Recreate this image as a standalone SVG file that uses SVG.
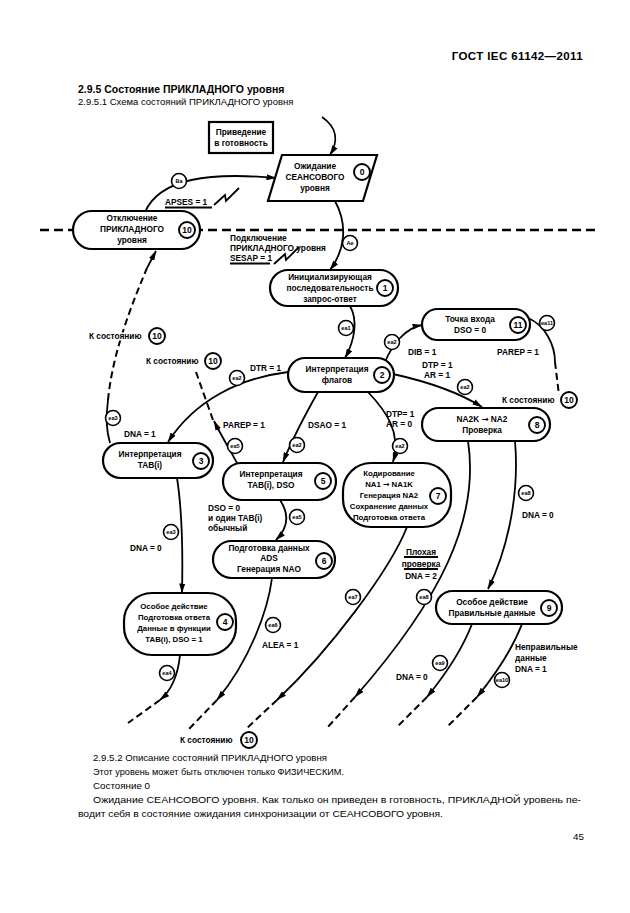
<svg xmlns="http://www.w3.org/2000/svg" width="630" height="913" viewBox="0 0 630 913">
<defs>
<marker id="ah" markerWidth="10" markerHeight="6" refX="9.5" refY="3" orient="auto" markerUnits="userSpaceOnUse"><path d="M0,0 L10,3 L0,6 Z" fill="#000"/></marker>
<style>
.pg{font-family:"Liberation Sans",Arial,sans-serif;fill:#000}
.d{font-family:"Liberation Sans",Arial,sans-serif;font-weight:bold;font-size:8.3px;fill:#000}
.s{font-size:7.8px}
.c{text-anchor:middle}
.ar{font-family:"DejaVu Sans",sans-serif}
.node{fill:#fff;stroke:#000;stroke-width:2.2}
.ln{fill:none;stroke:#000;stroke-width:1.8}
.ds{fill:none;stroke:#000;stroke-width:2;stroke-dasharray:7,4}
.tc{fill:#fff;stroke:#000;stroke-width:1.6}
.tt{font-family:"Liberation Sans",Arial,sans-serif;font-weight:bold;font-size:5.6px;text-anchor:middle;fill:#000}
.nc{fill:#fff;stroke:#000;stroke-width:1.9}
.nt{font-family:"Liberation Sans",Arial,sans-serif;font-weight:bold;font-size:8.5px;text-anchor:middle;fill:#000}
.halo{stroke:#fff;stroke-width:3;paint-order:stroke;stroke-linejoin:round}
</style>
</defs>
<rect width="630" height="913" fill="#fff"/>

<g id="page-text" class="pg">
<text x="583" y="60" font-size="11.5" font-weight="bold" text-anchor="end" letter-spacing="0.4">ГОСТ IEC 61142—2011</text>
<text x="78" y="93" font-size="10.5" font-weight="bold">2.9.5 Состояние ПРИКЛАДНОГО уровня</text>
<text x="78" y="105" font-size="9.5">2.9.5.1 Схема состояний ПРИКЛАДНОГО уровня</text>
<text x="93" y="761" font-size="9.8" textLength="234" lengthAdjust="spacingAndGlyphs">2.9.5.2 Описание состояний ПРИКЛАДНОГО уровня</text>
<text x="93" y="775" font-size="9.8" textLength="251" lengthAdjust="spacingAndGlyphs">Этот уровень может быть отключен только ФИЗИЧЕСКИМ.</text>
<text x="93" y="789" font-size="9.8">Состояние 0</text>
<text x="93" y="803" font-size="9.8" textLength="488" lengthAdjust="spacingAndGlyphs">Ожидание СЕАНСОВОГО уровня. Как только он приведен в готовность, ПРИКЛАДНОЙ уровень пе-</text>
<text x="78" y="817" font-size="9.8" textLength="365" lengthAdjust="spacingAndGlyphs">водит себя в состояние ожидания синхронизации от СЕАНСОВОГО уровня.</text>
<text x="573" y="840" font-size="9.8">45</text>
</g>

<g id="boundary">
<path d="M40,230 L595,230" fill="none" stroke="#000" stroke-width="2.5" stroke-dasharray="9,5"/>
</g>

<g id="connectors">
<path class="ln" d="M322,117 C338,128 338,142 330,155" marker-end="url(#ah)"/>
<path class="ln" d="M145,212 C160,178 210,172 276,178" marker-end="url(#ah)"/>
<path class="ln" d="M335,201 C348,225 345,250 330,270" marker-end="url(#ah)"/>
<path class="ln" d="M350,306 C358,320 355,340 345,358" marker-end="url(#ah)"/>
<path class="ln" d="M385,362 C392,345 405,328 422,325" marker-end="url(#ah)"/>
<path class="ln" d="M528,318 C545,325 555,345 555,362"/>
<path class="ds" d="M555,362 L559,395"/>
<path class="ln" d="M393,374 C420,380 455,390 482,407" marker-end="url(#ah)"/>
<path class="ln" d="M288,372 C240,378 195,400 168,442" marker-end="url(#ah)"/>
<path class="ln" d="M318,392 C305,415 292,440 283,462" marker-end="url(#ah)"/>
<path class="ln" d="M368,392 C385,410 402,432 393,462" marker-end="url(#ah)"/>
<path class="ln" d="M237,463 C230,450 222,437 214,421" marker-end="url(#ah)"/>
<path class="ds" d="M213,420 L196,372"/>
<path class="ln" d="M110,443 C106,430 106,415 108,400"/>
<path class="ds" d="M108,400 C112,360 125,320 147,268"/>
<path class="ln" d="M147,268 L156,251" marker-end="url(#ah)"/>
<path class="ln" d="M177,478 C182,510 183,550 182,593" marker-end="url(#ah)"/>
<path class="ln" d="M280,500 C290,515 288,528 276,540" marker-end="url(#ah)"/>
<path class="ln" d="M272,578 C268,610 250,660 217,700" marker-end="url(#ah)"/>
<path class="ds" d="M217,700 L188,730"/>
<path class="ln" d="M180,655 C178,675 172,690 160,700" marker-end="url(#ah)"/>
<path class="ds" d="M160,700 L128,723"/>
<path class="ln" d="M407,527 C390,570 330,650 277,700" marker-end="url(#ah)"/>
<path class="ds" d="M277,700 L245,730"/>
<path class="ln" d="M468,441 C480,520 440,600 355,697" marker-end="url(#ah)"/>
<path class="ds" d="M355,697 L327,728"/>
<path class="ln" d="M515,441 C520,500 505,555 488,589" marker-end="url(#ah)"/>
<path class="ln" d="M472,624 C462,650 445,675 427,697" marker-end="url(#ah)"/>
<path class="ds" d="M427,697 L397,727"/>
<path class="ln" d="M522,624 C512,650 495,675 477,697" marker-end="url(#ah)"/>
<path class="ds" d="M477,697 L447,727"/>
<polyline class="ln" points="214,205 225,195 226,201 239,188"/>
<polyline class="ln" points="274,264 285,254 286,260 299,247"/>
<path class="ln" d="M165,207.5 L212,207.5 M230,263.5 L270,263.5" stroke-width="1.3"/>
<path class="ln" d="M404,557 L438,557 M404,569 L438,569" stroke-width="1.3"/>
</g>

<g id="transition-labels">
<g><circle class="tc" cx="179" cy="181" r="7.5"/><text class="tt" x="179" y="183">Ba</text></g>
<g><circle class="tc" cx="350" cy="243" r="7.5"/><text class="tt" x="350" y="245">Ae</text></g>
<g><circle class="tc" cx="346" cy="328" r="7.5"/><text class="tt" x="346" y="330">ea1</text></g>
<g><circle class="tc" cx="392" cy="342" r="7.5"/><text class="tt" x="392" y="344">ea2</text></g>
<g><circle class="tc" cx="547" cy="323" r="7.5"/><text class="tt" x="547" y="325">ea11</text></g>
<g><circle class="tc" cx="465" cy="387" r="7.5"/><text class="tt" x="465" y="389">ea2</text></g>
<g><circle class="tc" cx="237" cy="378" r="7.5"/><text class="tt" x="237" y="380">ea2</text></g>
<g><circle class="tc" cx="297" cy="445" r="7.5"/><text class="tt" x="297" y="447">ea2</text></g>
<g><circle class="tc" cx="400" cy="446" r="7.5"/><text class="tt" x="400" y="448">ea2</text></g>
<g><circle class="tc" cx="235" cy="446" r="7.5"/><text class="tt" x="235" y="448">ea5</text></g>
<g><circle class="tc" cx="113" cy="418" r="7.5"/><text class="tt" x="113" y="420">ea3</text></g>
<g><circle class="tc" cx="171" cy="532" r="7.5"/><text class="tt" x="171" y="534">ea3</text></g>
<g><circle class="tc" cx="297" cy="517" r="7.5"/><text class="tt" x="297" y="519">ea5</text></g>
<g><circle class="tc" cx="273" cy="625" r="7.5"/><text class="tt" x="273" y="627">ea6</text></g>
<g><circle class="tc" cx="167" cy="673" r="7.5"/><text class="tt" x="167" y="675">ea4</text></g>
<g><circle class="tc" cx="353" cy="597" r="7.5"/><text class="tt" x="353" y="599">ea7</text></g>
<g><circle class="tc" cx="424" cy="597" r="7.5"/><text class="tt" x="424" y="599">ea8</text></g>
<g><circle class="tc" cx="526" cy="493" r="7.5"/><text class="tt" x="526" y="495">ea8</text></g>
<g><circle class="tc" cx="440" cy="663" r="7.5"/><text class="tt" x="440" y="665">ea9</text></g>
<g><circle class="tc" cx="502" cy="680" r="7.5"/><text class="tt" x="502" y="682">ea10</text></g>
</g>

<g id="edge-text">
<text class="d" x="165" y="205">APSES = 1</text>
<text class="d" x="230" y="241">Подключение</text>
<text class="d" x="230" y="251">ПРИКЛАДНОГО уровня</text>
<text class="d" x="230" y="261">SESAP = 1</text>
<text class="d" x="408" y="355">DIB = 1</text>
<text class="d" x="497" y="355">PAREP = 1</text>
<text class="d" x="422" y="368">DTP = 1</text>
<text class="d" x="424" y="378">AR = 1</text>
<text class="d" x="250" y="371">DTR = 1</text>
<text class="d" x="308" y="428">DSAO = 1</text>
<text class="d" x="223" y="428">PAREP = 1</text>
<text class="d" x="386" y="417">DTP= 1</text>
<text class="d" x="386" y="427">AR = 0</text>
<text class="d" x="124" y="437">DNA = 1</text>
<text class="d" x="130" y="551">DNA = 0</text>
<text class="d" x="208" y="511">DSO = 0</text>
<text class="d" x="208" y="521">и один TAB(i)</text>
<text class="d" x="208" y="531">обычный</text>
<text class="d" x="262" y="648">ALEA = 1</text>
<text class="d c" x="421" y="555">Плохая</text>
<text class="d c" x="421" y="567">проверка</text>
<text class="d c" x="421" y="579">DNA = 2</text>
<text class="d" x="522" y="518">DNA = 0</text>
<text class="d" x="396" y="680">DNA = 0</text>
<text class="d" x="515" y="650">Неправильные</text>
<text class="d" x="515" y="661">данные</text>
<text class="d" x="515" y="672">DNA = 1</text>
<g id="to10-a"><text class="d halo" x="89" y="339">К состоянию</text><circle class="nc" cx="157" cy="336" r="8"/><text class="nt" x="157" y="339">10</text></g>
<g id="to10-b"><text class="d halo" x="146" y="364">К состоянию</text><circle class="nc" cx="213" cy="361" r="8"/><text class="nt" x="213" y="364">10</text></g>
<g id="to10-c"><text class="d halo" x="502" y="403">К состоянию</text><circle class="nc" cx="569" cy="400" r="8"/><text class="nt" x="569" y="403">10</text></g>
<g id="to10-d"><text class="d halo" x="180" y="743">К состоянию</text><circle class="nc" cx="249" cy="740" r="8"/><text class="nt" x="249" y="743">10</text></g>
</g>

<g id="node-ready">
<rect class="node" x="209" y="122" width="64" height="31"/>
<text class="d c" x="241" y="135" font-size="7.3">Приведение</text>
<text class="d c" x="241" y="146" font-size="7.3">в готовность</text>
</g>

<g id="node-0">
<polygon class="node" points="282,155 377,155 363,201 268,201"/>
<text class="d c" x="315" y="169">Ожидание</text>
<text class="d c" x="315" y="180">СЕАНСОВОГО</text>
<text class="d c" x="315" y="191">уровня</text>
<circle class="nc" cx="362" cy="172" r="8"/><text class="nt" x="362" y="175">0</text>
</g>

<g id="node-10">
<rect class="node" x="73" y="211" width="127" height="38" rx="19"/>
<text class="d c" x="132" y="221">Отключение</text>
<text class="d c" x="132" y="232">ПРИКЛАДНОГО</text>
<text class="d c" x="132" y="243">уровня</text>
<circle class="nc" cx="187" cy="230" r="8"/><text class="nt" x="187" y="233">10</text>
</g>

<g id="node-1">
<rect class="node" x="270" y="270" width="128" height="36" rx="18"/>
<text class="d c" x="330" y="280">Инициализирующая</text>
<text class="d c" x="330" y="291">последовательность</text>
<text class="d c" x="330" y="302">запрос-ответ</text>
<circle class="nc" cx="385" cy="288" r="8"/><text class="nt" x="385" y="291">1</text>
</g>

<g id="node-2">
<rect class="node" x="288" y="358" width="106" height="34" rx="17"/>
<text class="d c" x="337" y="372">Интерпретация</text>
<text class="d c" x="337" y="383">флагов</text>
<circle class="nc" cx="382" cy="375" r="8"/><text class="nt" x="382" y="378">2</text>
</g>

<g id="node-11">
<rect class="node" x="422" y="309" width="108" height="31" rx="15.5"/>
<text class="d c" x="470" y="322">Точка входа</text>
<text class="d c" x="470" y="333">DSO = 0</text>
<circle class="nc" cx="518" cy="325" r="8"/><text class="nt" x="518" y="328">11</text>
</g>

<g id="node-3">
<rect class="node" x="103" y="443" width="110" height="35" rx="17.5"/>
<text class="d c" x="150" y="457">Интерпретация</text>
<text class="d c" x="150" y="468">TAB(i)</text>
<circle class="nc" cx="201" cy="461" r="8"/><text class="nt" x="201" y="464">3</text>
</g>

<g id="node-5">
<rect class="node" x="223" y="463" width="113" height="37" rx="18.5"/>
<text class="d c" x="271" y="477">Интерпретация</text>
<text class="d c" x="271" y="488">TAB(i), DSO</text>
<circle class="nc" cx="323" cy="481" r="8"/><text class="nt" x="323" y="484">5</text>
</g>

<g id="node-7">
<rect class="node" x="343" y="463" width="108" height="64" rx="28"/>
<text class="d s c" x="389" y="476">Кодирование</text>
<text class="d s c" x="389" y="487">NA1 <tspan class="ar">→</tspan> NA1K</text>
<text class="d s c" x="389" y="498">Генерация NA2</text>
<text class="d s c" x="389" y="509">Сохранение данных</text>
<text class="d s c" x="389" y="520">Подготовка ответа</text>
<circle class="nc" cx="438" cy="496" r="8"/><text class="nt" x="438" y="499">7</text>
</g>

<g id="node-8">
<rect class="node" x="422" y="408" width="128" height="33" rx="16.5"/>
<text class="d c" x="482" y="422">NA2K <tspan class="ar">→</tspan> NA2</text>
<text class="d c" x="482" y="433">Проверка</text>
<circle class="nc" cx="537" cy="425" r="8"/><text class="nt" x="537" y="428">8</text>
</g>

<g id="node-6">
<rect class="node" x="213" y="541" width="122" height="37" rx="18.5"/>
<text class="d c" x="269" y="551">Подготовка данных</text>
<text class="d c" x="269" y="561">ADS</text>
<text class="d c" x="269" y="572">Генерация NAO</text>
<circle class="nc" cx="324" cy="561" r="8"/><text class="nt" x="324" y="564">6</text>
</g>

<g id="node-4">
<rect class="node" x="124" y="593" width="112" height="62" rx="28"/>
<text class="d s c" x="174" y="609">Особое действие</text>
<text class="d s c" x="174" y="620">Подготовка ответа</text>
<text class="d s c" x="174" y="631">Данные в функции</text>
<text class="d s c" x="174" y="642">TAB(i), DSO = 1</text>
<circle class="nc" cx="225" cy="622" r="8"/><text class="nt" x="225" y="625">4</text>
</g>

<g id="node-9">
<rect class="node" x="436" y="591" width="126" height="33" rx="16.5"/>
<text class="d c" x="492" y="605">Особое действие</text>
<text class="d c" x="492" y="616">Правильные данные</text>
<circle class="nc" cx="549" cy="608" r="8"/><text class="nt" x="549" y="611">9</text>
</g>
</svg>
